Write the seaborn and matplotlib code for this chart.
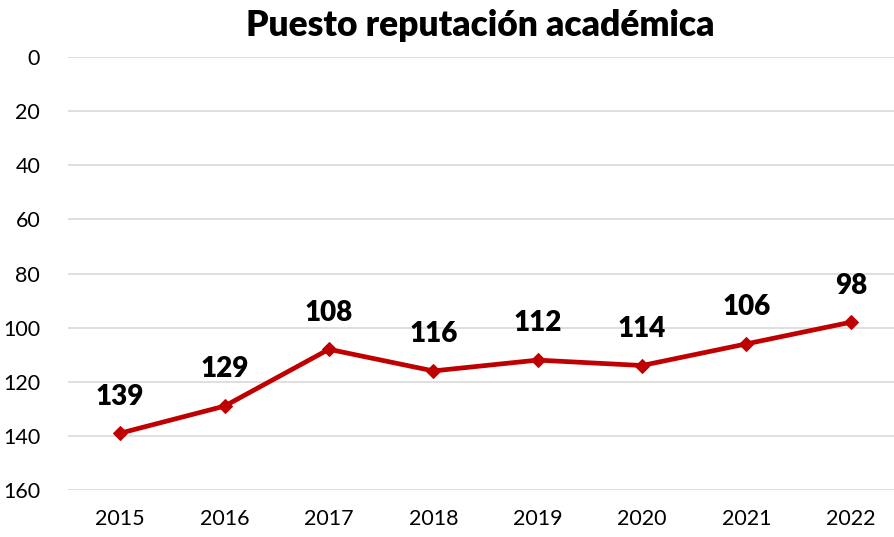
import pandas as pd
import matplotlib
matplotlib.use("Agg")
import matplotlib.pyplot as plt
import seaborn as sns

years = ["2015", "2016", "2017", "2018", "2019", "2020", "2021", "2022"]
puesto = [139, 129, 108, 116, 112, 114, 106, 98]
y_ticks = [0, 20, 40, 60, 80, 100, 120, 140, 160]

df = pd.DataFrame({"anio": years, "puesto": puesto})

sns.set_style("white")
plt.rcParams["font.family"] = ["Lato", "DejaVu Sans"]

fig = plt.figure(figsize=(8.95, 5.37), dpi=100)
ax = fig.add_axes([68 / 895, 47 / 537, 835 / 895, 433 / 537])

sns.lineplot(data=df, x="anio", y="puesto", ax=ax, color="#C00000",
             linewidth=3.4, marker="D", markersize=7, markeredgecolor="#C00000",
             sort=False)

for i, v in enumerate(puesto):
    ax.annotate(str(v), (i, v), xytext=(0, 17), textcoords="offset points",
                ha="center", va="bottom", fontsize=20, fontweight="heavy",
                color="black")

ax.set_xlim(-0.5, len(years) - 0.5)
ax.set_ylim(160, 0)
ax.set_yticks(y_ticks)
ax.yaxis.grid(True, color="#d9d9d9", linewidth=1.2)
ax.set_axisbelow(True)
for s in ax.spines.values():
    s.set_visible(False)
ax.tick_params(axis="both", length=0, labelsize=15.5, colors="black")
ax.tick_params(axis="y", pad=20)
ax.tick_params(axis="x", pad=14)
ax.set_xlabel("")
ax.set_ylabel("")

fig.text(480 / 895, 1 - 25 / 537, "Puesto reputación académica", ha="center",
         va="center", fontsize=25.5, fontweight="heavy", color="black")

fig.savefig("out.png", dpi=100)
